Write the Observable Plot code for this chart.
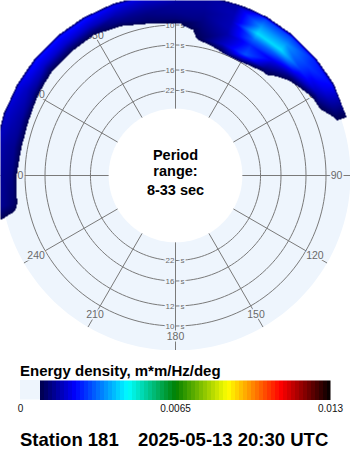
<!DOCTYPE html>
<html>
<head>
<meta charset="utf-8">
<script src="https://cdn.jsdelivr.net/npm/d3@7"></script>
<script src="https://cdn.jsdelivr.net/npm/@observablehq/plot@0.6"></script>
<style>
  html, body { margin: 0; padding: 0; background: #fff; }
  #root { position: relative; width: 350px; height: 450px; overflow: hidden;
          font-family: "Liberation Sans", Arial, sans-serif; color: #000; }
  #polar { position: absolute; left: 0; top: 0; }
  #cbtitle { position: absolute; left: 20px; top: 363px; font-size: 15px; font-weight: bold;
             line-height: 15px; white-space: nowrap; }
  #cbar { position: absolute; left: 0; top: 378px; }
  .foot { position: absolute; top: 430px; font-size: 18.5px; font-weight: bold; line-height: 19px; white-space: nowrap; }
</style>
</head>
<body>
<div id="root">
  <div id="polar"></div>
  <div id="cbtitle">Energy density, m*m/Hz/deg</div>
  <div id="cbar"></div>
  <div class="foot" style="left:20px">Station 181</div>
  <div class="foot" style="left:138px">2025-05-13 20:30 UTC</div>
</div>
<script>
// ================= DATA =================
// Directions (deg, compass, clockwise from north) of the spectrum grid
const directions = [0,10,20,30,40,50,60,70,80,90,100,110,120,130,140,150,160,170,
                    180,190,200,210,220,230,240,250,260,270,280,290,300,310,320,330,340,350];
// Period rows of the grid (s); 7.8 s is just outside the plotted 8-33 s range (no energy)
const periods = [7.8, 8, 8.5, 9, 9.5, 10, 11, 12, 14];
// Energy density per period row, in units of 1e-4 m*m/Hz/deg, one value per direction
//              0  10  20  30  40  50  60  70  80  90 100 110 120 130 140 150 160 170 180 190 200 210 220 230 240 250 260  270 280 290 300 310 320 330 340 350
const eT7_8 = [ 0,  0,  0,  0,  0,  0,  0,  0,  0,  0,  0,  0,  0,  0,  0,  0,  0,  0,  0,  0,  0,  0,  0,  0,  0,  0,  0,   0,  0,  0,  0,  0,  0,  0,  0,  0];
const eT8   = [17, 15, 16, 28, 28, 26, 23, 10,  0,  0,  0,  0,  0,  0,  0,  0,  0,  0,  0,  0,  0,  0,  0,  0,  0,  0, 15,  16, 17, 19, 21, 24, 24, 24, 22, 20];
const eT8_5 = [15, 15, 17, 36, 36, 28, 21, 10,  0,  0,  0,  0,  0,  0,  0,  0,  0,  0,  0,  0,  0,  0,  0,  0,  0,  0, 13,  14, 15, 17, 18, 19, 19, 18, 17, 16];
const eT9   = [14, 14, 17, 42, 42, 27, 17,  6,  0,  0,  0,  0,  0,  0,  0,  0,  0,  0,  0,  0,  0,  0,  0,  0,  0,  0, 11,  13, 14, 15, 14, 11, 11, 10, 13, 13];
const eT9_5 = [12, 13, 17, 32, 30, 20,  8,  2,  0,  0,  0,  0,  0,  0,  0,  0,  0,  0,  0,  0,  0,  0,  0,  0,  0,  0,  6,   7,  9,  9,  6,  5,  4,  3,  7, 11];
const eT10  = [7.5,12, 16, 26, 22, 11,  2,  0,  0,  0,  0,  0,  0,  0,  0,  0,  0,  0,  0,  0,  0,  0,  0,  0,  0,  0,  0,   4,  3,  3,  2,  1,  0,  0,  2,  6];
const eT11  = [ 2, 10, 18, 30, 13,  2,  0,  0,  0,  0,  0,  0,  0,  0,  0,  0,  0,  0,  0,  0,  0,  0,  0,  0,  0,  0,  0,   0,  0,  0,  0,  0,  0,  0,  0,  0];
const eT12  = [ 0,  6,  7,  8,  3,  0,  0,  0,  0,  0,  0,  0,  0,  0,  0,  0,  0,  0,  0,  0,  0,  0,  0,  0,  0,  0,  0,   0,  0,  0,  0,  0,  0,  0,  0,  0];
const eT14  = [ 0,  0,  0,  0,  0,  0,  0,  0,  0,  0,  0,  0,  0,  0,  0,  0,  0,  0,  0,  0,  0,  0,  0,  0,  0,  0,  0,   0,  0,  0,  0,  0,  0,  0,  0,  0];
const energyUnit = 1e-4;

// Grid rings and their labels
const ringPeriods = [10, 12, 16, 22];
const ringLabels = ["10", "12", "16", "22"];
// Spokes / direction labels
const spokeDirs = [0,30,60,90,120,150,180,210,240,270,300,330];
const dirLabels = ["0","30","60","90","120","150","180","210","240","270","300","330"];
// Colour bar
const energyMax = 0.013;
const colorStops = [0.00088, 0.0023, 0.0045, 0.0065, 0.0087, 0.0109, 0.013];
const colorRamp  = ["#000050", "#0000ff", "#00ffff", "#008000", "#ffff00", "#ff0000", "#000000"];
const barTicks = [0, 0.0065, 0.013];
const barTickLabels = ["0", "0.0065", "0.013"];
const centerLines = ["Period", "range:", "8-33 sec"];

// ================= GEOMETRY / STYLE =================
const BG = "#eef5fd", GRID = "#7a7a7a", LABEL = "#6a6a6a";
const FONT = "Liberation Sans, Arial, sans-serif";
const deg = Math.PI / 180;
const rho = T => 30.5 + 1200 / T;           // radius is linear in frequency 1/T
const pX = (d, r) => r * Math.sin(d * deg);
const pY = (d, r) => r * Math.cos(d * deg);
const R_OUT = 175;                           // edge of the plotting disk
const R_IN = rho(33);                        // inner (33 s) limit
const R_LAB = 161;                           // radius of the direction labels
const circle = r => d3.range(0, 361, 2).map(a => ({x: pX(a, r), y: pY(a, r)}));

const rows = [eT7_8, eT8, eT8_5, eT9, eT9_5, eT10, eT11, eT12, eT14];
const samples = periods.flatMap((T, i) => directions.map((d, j) => ({
  x: pX(d, rho(T)), y: pY(d, rho(T)), e: rows[i][j] * energyUnit
})));

const ramp = d3.scaleLinear().domain(colorStops).range(colorRamp).interpolate(d3.interpolateRgb).clamp(true);
const colorInterp = t => (t * energyMax < colorStops[0] ? null : ramp(t * energyMax));
const colorScale = {type: "linear", domain: [0, energyMax], interpolate: colorInterp, clamp: true};

const ringPts = ringPeriods.flatMap(T => circle(rho(T)).map(p => ({...p, T})));
const ringLab = ringPeriods.flatMap((T, i) => [0, 180].map(d => ({x: pX(d, rho(T)), y: pY(d, rho(T)), t: ringLabels[i]})));
const spokes = spokeDirs.map(d => ({x1: pX(d, R_IN), y1: pY(d, R_IN), x2: pX(d, R_OUT), y2: pY(d, R_OUT)}));
const dirLab = spokeDirs.map((d, i) => ({x: pX(d, R_LAB), y: pY(d, R_LAB), t: dirLabels[i]}));

const polar = Plot.plot({
  width: 350, height: 350, margin: 0,
  x: {domain: [-R_OUT, R_OUT], axis: null},
  y: {domain: [-R_OUT, R_OUT], axis: null},
  color: colorScale,
  style: {background: "transparent", overflow: "hidden"},
  marks: [
    Plot.line(circle(R_OUT), {x: "x", y: "y", fill: BG, stroke: "none"}),
    Plot.line(circle(R_IN), {x: "x", y: "y", fill: "white", stroke: "none"}),
    Plot.line(ringPts, {x: "x", y: "y", z: "T", stroke: GRID, strokeWidth: 1}),
    Plot.text(ringLab, {x: "x", y: "y", text: "t", textAnchor: "end", dx: -1, fontSize: 8, fontFamily: FONT,
                        fill: LABEL, stroke: BG, strokeWidth: 3}),
    Plot.text(ringLab, {x: "x", y: "y", text: () => "s", textAnchor: "start", dx: 5, fontSize: 8, fontFamily: FONT,
                        fill: LABEL, stroke: BG, strokeWidth: 3}),
    Plot.link(spokes, {x1: "x1", y1: "y1", x2: "x2", y2: "y2", stroke: GRID, strokeWidth: 1}),
    Plot.text(dirLab, {x: "x", y: "y", text: "t", fontSize: 10.5, fontFamily: FONT, fill: LABEL, stroke: BG, strokeWidth: 3}),
    Plot.raster(samples, {x: "x", y: "y", fill: "e", interpolate: "barycentric",
                          x1: -R_OUT, x2: R_OUT, y1: -R_OUT, y2: R_OUT}),
    Plot.text([centerLines[0]], {x: 0, y: 0, text: d => d, dy: -20.3, fontSize: 14.5, fontWeight: "bold", fontFamily: FONT, fill: "#000"}),
    Plot.text([centerLines[1]], {x: 0, y: 0, text: d => d, dy: -4.6, fontSize: 14.5, fontWeight: "bold", fontFamily: FONT, fill: "#000"}),
    Plot.text([centerLines[2]], {x: 0, y: 0, text: d => d, dy: 14.4, fontSize: 14.5, fontWeight: "bold", fontFamily: FONT, fill: "#000"})
  ]
});
document.getElementById("polar").append(polar);

const bar = Plot.plot({
  width: 350, height: 42, marginLeft: 20, marginRight: 20, marginTop: 2, marginBottom: 20.5,
  x: {domain: [0, energyMax], ticks: barTicks, tickFormat: d => barTickLabels[barTicks.indexOf(d)],
      tickSize: 0, tickPadding: 4.5, label: null},
  y: {domain: [0, 1], axis: null},
  color: colorScale,
  style: {background: "transparent", fontSize: "10px", fontFamily: FONT, color: "#111"},
  marks: [
    Plot.rect([colorStops[0]], {x1: 0, x2: d => d, y1: 0, y2: 1, fill: BG}),
    Plot.raster({fill: (x, y) => x, x1: 0, x2: energyMax, y1: 0, y2: 1, pixelSize: 4, imageRendering: "pixelated"})
  ]
});
document.getElementById("cbar").append(bar);
</script>
</body>
</html>
